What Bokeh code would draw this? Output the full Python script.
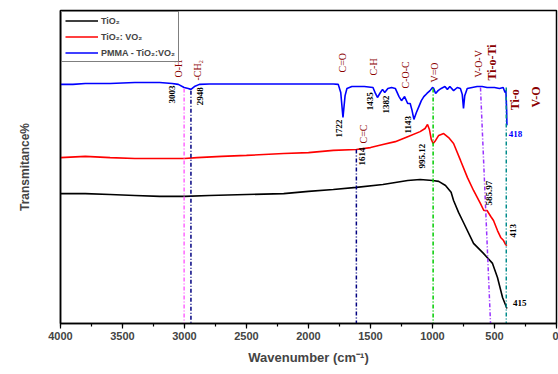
import math
from bokeh.plotting import figure
from bokeh.models import Range1d, Legend, LegendItem, SingleIntervalTicker, FixedTicker, ColumnDataSource
from bokeh.core.properties import value
from bokeh.embed import file_html
from bokeh.resources import INLINE

# ---- data (arbitrary transmittance units 0-100) ----
tio2_wn = [4000, 3800, 3600, 3400, 3200, 3000, 2800, 2500, 2200, 2000, 1800, 1614, 1400, 1200,
           1100, 1000, 950, 895, 850, 830, 790, 758, 669, 589, 516, 476, 435, 403, 400]
tio2_t = [41.5, 41.5, 41.2, 40.9, 40.6, 40.6, 40.9, 41.2, 41.5, 42.2, 42.8, 43.5, 44.4, 45.7,
          46.0, 45.7, 45.4, 44.1, 41.9, 39.3, 35.5, 32.9, 25.6, 22.4, 19.2, 14.7, 8.3, 5.1, 4.8]

tio2vo2_wn = [4000, 3800, 3600, 3400, 3200, 3000, 2900, 2700, 2500, 2200, 2000, 1800, 1614, 1500,
              1400, 1300, 1200, 1100, 1060, 1040, 1025, 1010, 995, 975, 950, 910, 870, 830, 774,
              718, 669, 613, 586, 560, 530, 508, 476, 450, 427, 410, 400]
tio2vo2_t = [53.0, 53.4, 53.0, 52.7, 52.7, 52.7, 53.0, 53.4, 53.7, 54.3, 54.6, 55.3, 55.6, 56.2,
             57.2, 58.1, 59.7, 61.3, 62.3, 63.6, 62.0, 58.8, 57.5, 58.5, 60.1, 60.7, 59.4, 57.5, 52.1,
             46.6, 42.5, 38.3, 36.1, 36.1, 34.2, 32.9, 29.7, 27.5, 26.5, 25.2, 24.9]

pmma_wn = [4000, 3900, 3800, 3600, 3400, 3200, 3100, 3050, 3003, 2970, 2948, 2920, 2880, 2800,
           2500, 2000, 1800, 1760, 1740, 1722, 1705, 1690, 1650, 1550, 1480, 1460, 1444, 1420,
           1403, 1385, 1360, 1330, 1300, 1270, 1250, 1225, 1200, 1180, 1165, 1150, 1130, 1110,
           1090, 1070, 1045, 1020, 1000, 990, 975, 955, 930, 900, 880, 860, 830, 800, 775, 760,
           750, 740, 720, 680, 640, 600, 560, 500, 460, 430, 415, 408, 402, 400]
pmma_t = [76.4, 76.4, 76.7, 76.7, 77.0, 77.0, 76.7, 76.4, 75.4, 75.1, 74.8, 75.7, 76.4, 76.5,
          76.5, 76.5, 76.5, 76.4, 73.8, 65.8, 72.8, 75.1, 75.7, 75.7, 75.4, 73.5, 72.2, 73.8,
          74.8, 73.8, 75.1, 75.4, 75.1, 72.5, 71.2, 72.5, 70.3, 70.3, 68.1, 65.2, 67.4, 69.3,
          71.2, 72.5, 73.5, 74.4, 75.4, 75.1, 73.5, 74.4, 75.1, 75.7, 74.8, 75.7, 74.4, 75.4, 75.1, 73.2,
          68.7, 72.8, 75.1, 75.4, 75.7, 75.7, 75.4, 75.4, 75.1, 75.4, 73.8, 74.4, 68.1, 63.3]

series_names = ["TiO\u2082", "TiO\u2082: VO\u2082", "PMMA - TiO\u2082:VO\u2082"]
series_colors = ["black", "red", "blue"]

# vertical marker lines
marker_wn_top = [3003, 2948, 1614, 995, 613, 405]
marker_wn_bottom = [3003, 2948, 1614, 995, 532, 405]
marker_t_top = [75.1, 74.4, 55.6, 75.1, 75.4, 75.4]
marker_colors = ["#ff66ff", "#000080", "#000080", "#00cc00", "#9933ff", "#008b8b"]

# band assignment labels (vertical, dark red)
band_text = ["O-H", "-CH\u2082", "C=O", "C-H", "C-O-C", "V=O", "V-O-V", "C=C"]
band_wn = [3049, 2895, 1726, 1476, 1218, 984, 629, 1557]
band_t = [78.6, 77.6, 80.2, 79.2, 75.1, 77.0, 78.6, 57.5]

big_band_text = ["Ti-o-Ti", "Ti-o", "V-O"]
big_band_wn = [524, 331, 169]
big_band_t = [77.6, 68.1, 69.0]

# peak wavenumber labels (vertical, black)
peak_text = ["3003", "2948", "1722", "1435", "1382", "1143", "1614", "995.12", "585.97", "413"]
peak_wn = [3097, 2871, 1758, 1508, 1379, 1194, 1565, 1081, 548, 347]
peak_t = [70.3, 69.7, 59.4, 68.1, 67.1, 60.7, 50.5, 49.5, 37.7, 27.5]

# horizontal peak labels
hpeak_text = ["415", "418"]
hpeak_wn = [350, 385]
hpeak_t = [6.4, 60.7]
hpeak_colors = ["black", "blue"]

# ---- figure ----
p = figure(width=558, height=374, output_backend="svg", toolbar_location=None,
           x_range=Range1d(4000, 0), y_range=Range1d(0, 100),
           min_border_left=60, min_border_right=2, min_border_top=10, min_border_bottom=51)
p.xgrid.visible = False
p.ygrid.visible = False
p.outline_line_color = "black"
p.outline_line_width = 1.5
p.background_fill_color = "white"

# x axis
p.xaxis.ticker = SingleIntervalTicker(interval=500, num_minor_ticks=2)
p.xaxis.axis_label = "Wavenumber (cm\u207b\u00b9)"
p.xaxis.axis_label_text_font = "Liberation Sans"
p.xaxis.axis_label_text_font_style = "bold"
p.xaxis.axis_label_text_font_size = "13px"
p.xaxis.axis_label_standoff = 7
p.xaxis.major_label_text_font = "Liberation Sans"
p.xaxis.major_label_text_font_style = "bold"
p.xaxis.major_label_text_font_size = "11px"
p.xaxis.major_label_standoff = 3
p.xaxis.major_tick_in = 0
p.xaxis.major_tick_out = 5
p.xaxis.minor_tick_in = 0
p.xaxis.minor_tick_out = 3
p.xaxis.axis_line_width = 1.5
p.xaxis.major_tick_line_width = 1.2
p.xaxis.minor_tick_line_width = 1.2

# y axis (no ticks)
p.yaxis.ticker = FixedTicker(ticks=[])
p.yaxis.axis_label = "Transmitance%"
p.yaxis.axis_label_text_font = "Liberation Sans"
p.yaxis.axis_label_text_font_style = "bold"
p.yaxis.axis_label_text_font_size = "12px"
p.yaxis.axis_label_standoff = 29
p.yaxis.axis_line_width = 1.5
p.yaxis.minor_tick_line_color = None
p.yaxis.major_tick_line_color = None

# spectra
r1 = p.line(tio2_wn, tio2_t, line_color=series_colors[0], line_width=1.6)
r2 = p.line(tio2vo2_wn, tio2vo2_t, line_color=series_colors[1], line_width=1.6)
r3 = p.line(pmma_wn, pmma_t, line_color=series_colors[2], line_width=1.6)

# marker lines
msrc = ColumnDataSource(dict(x0=marker_wn_top, y0=marker_t_top, x1=marker_wn_bottom,
                             y1=[0] * len(marker_wn_top), c=marker_colors))
p.segment(x0="x0", y0="y0", x1="x1", y1="y1", line_color="c", line_width=1.5,
          line_dash="4 2 1 2", source=msrc)

ang = math.pi / 2
p.text(x=band_wn, y=band_t, text=band_text, angle=ang, text_align="left", text_baseline="middle",
       text_font=value("Liberation Serif"), text_font_size="10px", text_color="#8b0000")
p.text(x=big_band_wn, y=big_band_t, text=big_band_text, angle=ang, text_align="left",
       text_baseline="middle", text_font=value("Liberation Serif"), text_font_size="12px",
       text_font_style="bold", text_color="#8b0000")
p.text(x=peak_wn, y=peak_t, text=peak_text, angle=ang, text_align="left", text_baseline="middle",
       text_font=value("Liberation Serif"), text_font_size="9px", text_font_style="bold",
       text_color="black")
p.text(x=hpeak_wn, y=hpeak_t, text=hpeak_text, text_align="left", text_baseline="middle",
       text_font=value("Liberation Serif"), text_font_size="9px", text_font_style="bold",
       text_color=hpeak_colors)

legend = Legend(items=[LegendItem(label=series_names[0], renderers=[r1]),
                       LegendItem(label=series_names[1], renderers=[r2]),
                       LegendItem(label=series_names[2], renderers=[r3])],
                location="top_left", margin=1, padding=3, spacing=5,
                glyph_width=33, glyph_height=11, label_standoff=3,
                label_text_font="Liberation Sans", label_text_font_size="9px",
                label_text_font_style="bold", border_line_color="black", border_line_width=1,
                label_height=11)
p.add_layout(legend)

open("out.html", "w").write(file_html(p, INLINE))
